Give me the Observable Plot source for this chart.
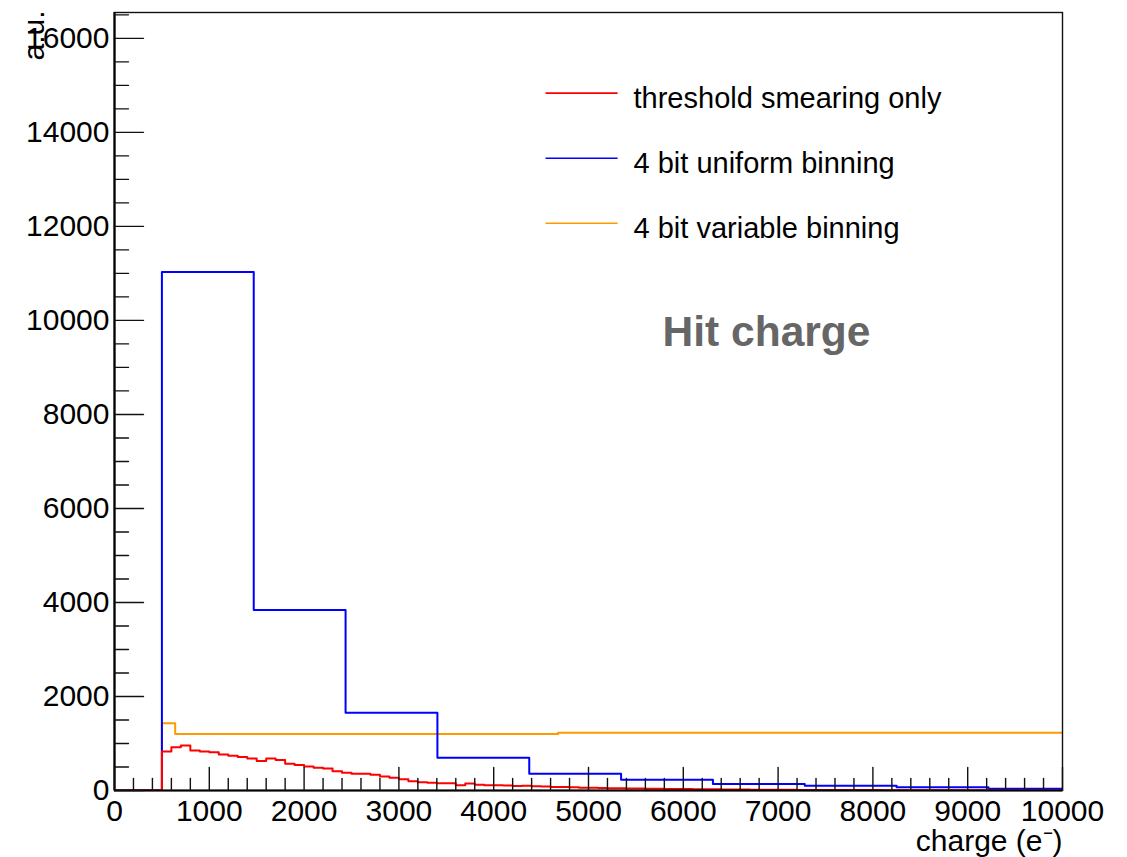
<!DOCTYPE html>
<html>
<head>
<meta charset="utf-8">
<script src="https://cdn.jsdelivr.net/npm/d3@7"></script>
<script src="https://cdn.jsdelivr.net/npm/@observablehq/plot@0.6"></script>
<style>
  html, body { margin: 0; padding: 0; background: #fff; }
  #chart { width: 1127px; height: 857px; }
</style>
</head>
<body>
<div id="chart"></div>
<script>
// ---- data ----
// threshold smearing only: 100 e- wide bins starting at 500 e-
const redBinStart = 500;
const redBinWidth = 100;
const redValues = [
  830, 920, 955, 850, 830, 815, 765, 740, 710, 680,
  625, 680, 650, 570, 540, 510, 485, 470, 410, 376,
  355, 355, 333, 298, 270, 241, 199, 177, 163, 156,
  156, 113, 149, 121, 113, 110, 104, 96, 100, 90,
  84, 76, 72, 68, 60, 56, 54, 50, 46, 44,
  40, 38, 35, 33, 31, 30, 27, 26, 24, 22,
  21, 19, 18, 17, 16, 15, 14, 13, 12, 11,
  11, 10, 9, 9, 8, 8, 7, 7, 6, 6,
  6, 5, 5, 5, 4, 4, 4, 4, 3, 3,
  3, 3, 3, 2, 2
];
// 4 bit uniform binning
const blueEdges = [500, 1468.75, 2437.5, 3406.25, 4375, 5343.75, 6312.5, 7281.25, 8250, 9218.75, 10187.5];
const blueValues = [11030, 3840, 1655, 698, 357, 228, 140, 103, 68, 36];
// 4 bit variable binning
const orangeEdges = [500, 640, 4680, 16000];
const orangeValues = [1430, 1200, 1230];

const seriesNames = ["threshold smearing only", "4 bit uniform binning", "4 bit variable binning"];
const seriesColors = ["#ff0000", "#0000ff", "#ff9900"];

const xMajorTicks = [0, 1000, 2000, 3000, 4000, 5000, 6000, 7000, 8000, 9000, 10000];
const yMajorTicks = [0, 2000, 4000, 6000, 8000, 10000, 12000, 14000, 16000];
const xTitle = "charge (e\u207B)";
const yTitle = "a.u.";
const plotTitle = "Hit charge";

// ---- build step outlines ----
function outline(edges, values) {
  const pts = [{x: 0, y: 0}];
  values.forEach((v, i) => pts.push({x: edges[i], y: v}));
  pts.push({x: edges[edges.length - 1], y: values[values.length - 1]});
  return pts;
}
const redEdges = d3.range(redValues.length + 1).map(i => redBinStart + i * redBinWidth);
const redLine = outline(redEdges, redValues);
const blueLine = outline(blueEdges, blueValues);
const orangeLine = outline(orangeEdges, orangeValues);

const xMinor = d3.range(0, 10001, 200).filter(v => v % 1000 !== 0);
const yMinor = d3.range(0, 16551, 500).filter(v => v % 2000 !== 0);

const tickShape = {draw(ctx, l) { ctx.moveTo(0, 0); ctx.lineTo(0, -l); }};
const tickStyle = {stroke: "#111", strokeWidth: 1.4, anchor: "start", shape: tickShape};

const FONT = "'Liberation Sans', Arial, Helvetica, sans-serif";

const legendY = seriesNames.map((_, i) => 14834 - i * 1383);
const legend = seriesNames.map((name, i) => ({name, color: seriesColors[i], y: legendY[i]}));

const chart = Plot.plot({
  width: 1127,
  height: 857,
  marginLeft: 114,
  marginRight: 65,
  marginTop: 12,
  marginBottom: 67,
  style: {fontFamily: FONT, background: "#fff", color: "#000"},
  x: {domain: [0, 10000]},
  y: {domain: [0, 16550]},
  marks: [
    // histograms
    Plot.line(orangeLine, {x: "x", y: "y", curve: "step-after", stroke: seriesColors[2], strokeWidth: 2, clip: true}),
    Plot.line(blueLine, {x: "x", y: "y", curve: "step-after", stroke: seriesColors[1], strokeWidth: 2, clip: true}),
    Plot.line(redLine, {x: "x", y: "y", curve: "step-after", stroke: seriesColors[0], strokeWidth: 2, clip: true}),
    // frame & axis lines
    Plot.frame({stroke: "#111", strokeWidth: 1.4}),
    Plot.ruleY([0], {stroke: "#000", strokeWidth: 2.2}),
    Plot.ruleX([0], {stroke: "#000", strokeWidth: 2.2}),
    // inward ticks
    Plot.vector(xMajorTicks, {x: d => d, y: 0, length: 23, rotate: 0, ...tickStyle}),
    Plot.vector(xMinor, {x: d => d, y: 0, length: 12, rotate: 0, ...tickStyle}),
    Plot.vector(yMajorTicks, {x: 0, y: d => d, length: 29, rotate: 90, ...tickStyle}),
    Plot.vector(yMinor, {x: 0, y: d => d, length: 14, rotate: 90, ...tickStyle}),
    // tick labels
    Plot.axisX({ticks: xMajorTicks, tickSize: 0, tickPadding: 9, fontSize: 30, tickFormat: d => String(d), label: null, fill: "#000"}),
    Plot.axisY({ticks: yMajorTicks, tickSize: 0, tickPadding: 5, fontSize: 30, tickFormat: d => String(d), label: null, fill: "#000"}),
    // axis titles
    Plot.text([xTitle], {text: d => d, frameAnchor: "bottom-right", dy: 60, textAnchor: "end", lineAnchor: "bottom", fontSize: 30, fill: "#000"}),
    Plot.text([yTitle], {text: d => d, frameAnchor: "top-left", dx: -71, dy: -2, rotate: -90, textAnchor: "end", lineAnchor: "bottom", fontSize: 30, fill: "#000"}),
    // title annotation
    Plot.text([plotTitle], {text: d => d, frameAnchor: "top-left", dx: 652, dy: 320, textAnchor: "middle", lineAnchor: "middle", fontSize: 42.5, fontWeight: "bold", fill: "#666"}),
    // legend
    Plot.link(legend, {x1: 4547, x2: 5307, y1: "y", y2: "y", stroke: "color", strokeWidth: 1.6}),
    Plot.text(legend, {x: 5475, y: "y", dy: 6, text: "name", textAnchor: "start", lineAnchor: "middle", fontSize: 29, fill: "#000"})
  ]
});
document.getElementById("chart").appendChild(chart);
</script>
</body>
</html>
